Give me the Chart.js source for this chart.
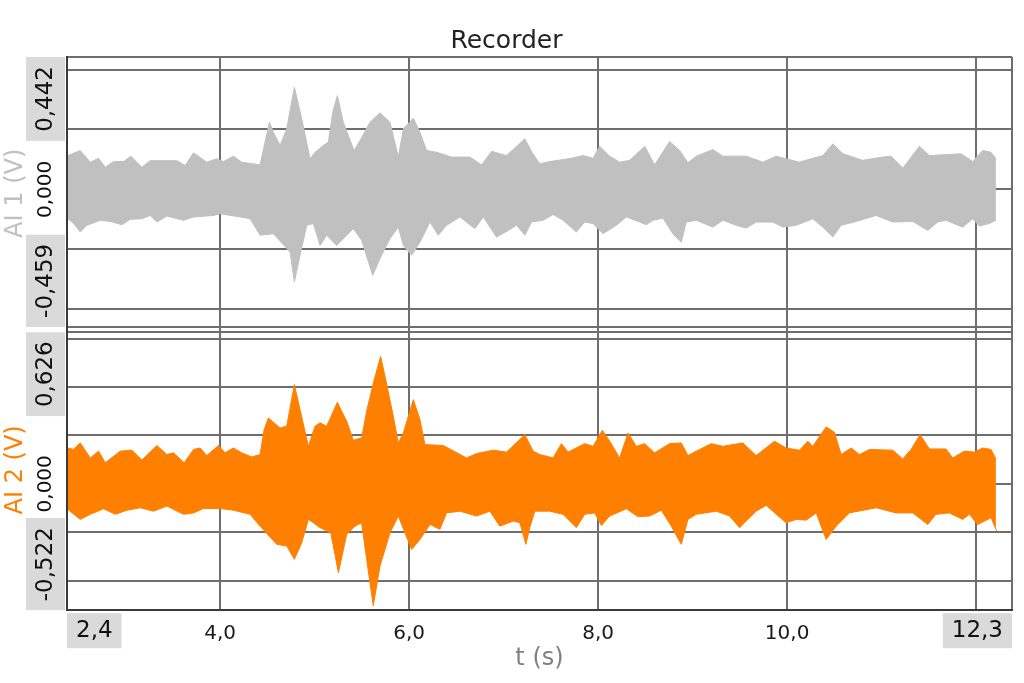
<!DOCTYPE html>
<html>
<head>
<meta charset="utf-8">
<title>Recorder</title>
<script src="https://cdn.jsdelivr.net/npm/chart.js@4.4.0/dist/chart.umd.min.js"></script>
<style>
  html, body { margin: 0; padding: 0; background: #fff; }
</style>
</head>
<body>
<canvas id="grafo" width="1024" height="683"></canvas>
<script>
// envolventes: [tiempo (s), tension (V)]
const ai1Sup = [[2.39,0.113],[2.52,0.130],[2.626,0.091],[2.714,0.104],[2.785,0.074],[2.873,0.093],[2.979,0.093],[3.056,0.111],[3.172,0.074],[3.26,0.096],[3.542,0.096],[3.63,0.080],[3.719,0.122],[3.859,0.091],[3.965,0.102],[4.036,0.093],[4.141,0.111],[4.229,0.091],[4.423,0.082],[4.476,0.158],[4.522,0.224],[4.564,0.191],[4.635,0.147],[4.705,0.202],[4.786,0.341],[4.864,0.236],[4.952,0.102],[5.005,0.124],[5.093,0.147],[5.146,0.158],[5.192,0.258],[5.241,0.313],[5.304,0.224],[5.417,0.130],[5.481,0.163],[5.586,0.224],[5.692,0.256],[5.798,0.224],[5.886,0.108],[5.939,0.202],[6.045,0.238],[6.115,0.191],[6.185,0.130],[6.291,0.124],[6.45,0.108],[6.643,0.108],[6.767,0.082],[6.873,0.127],[7.031,0.113],[7.225,0.169],[7.30,0.124],[7.383,0.086],[7.488,0.093],[7.717,0.104],[7.841,0.113],[7.947,0.104],[8.017,0.144],[8.123,0.111],[8.228,0.091],[8.334,0.097],[8.493,0.144],[8.598,0.082],[8.757,0.160],[8.863,0.130],[8.951,0.089],[9.039,0.111],[9.215,0.133],[9.321,0.111],[9.568,0.111],[9.744,0.091],[9.885,0.111],[9.99,0.102],[10.131,0.091],[10.272,0.104],[10.378,0.113],[10.484,0.152],[10.59,0.119],[10.801,0.097],[11.012,0.108],[11.1,0.111],[11.224,0.071],[11.4,0.144],[11.506,0.113],[11.682,0.116],[11.841,0.119],[11.964,0.093],[12.07,0.130],[12.158,0.124],[12.21,0.102]];
const ai1Inf = [[2.39,-0.098],[2.45,-0.114],[2.52,-0.142],[2.591,-0.120],[2.732,-0.103],[2.838,-0.107],[2.961,-0.118],[3.049,-0.100],[3.172,-0.098],[3.26,-0.087],[3.331,-0.109],[3.437,-0.089],[3.613,-0.103],[3.719,-0.092],[3.93,-0.087],[4.0,-0.081],[4.212,-0.092],[4.318,-0.098],[4.423,-0.153],[4.564,-0.148],[4.741,-0.209],[4.786,-0.309],[4.846,-0.220],[4.917,-0.120],[4.987,-0.114],[5.058,-0.187],[5.128,-0.153],[5.234,-0.187],[5.304,-0.164],[5.41,-0.131],[5.498,-0.170],[5.615,-0.287],[5.692,-0.231],[5.798,-0.164],[5.886,-0.126],[5.939,-0.187],[6.027,-0.220],[6.115,-0.176],[6.221,-0.109],[6.309,-0.153],[6.397,-0.120],[6.538,-0.092],[6.696,-0.131],[6.785,-0.092],[6.925,-0.159],[7.049,-0.137],[7.137,-0.120],[7.225,-0.153],[7.296,-0.109],[7.418,-0.103],[7.524,-0.084],[7.629,-0.103],[7.77,-0.142],[7.858,-0.109],[7.947,-0.114],[8.052,-0.148],[8.193,-0.120],[8.299,-0.092],[8.44,-0.109],[8.51,-0.118],[8.581,-0.103],[8.687,-0.096],[8.792,-0.148],[8.88,-0.176],[8.933,-0.109],[9.039,-0.103],[9.215,-0.126],[9.321,-0.103],[9.462,-0.120],[9.568,-0.129],[9.673,-0.109],[9.85,-0.109],[9.955,-0.126],[10.096,-0.120],[10.272,-0.098],[10.378,-0.126],[10.484,-0.159],[10.572,-0.120],[10.731,-0.107],[10.942,-0.087],[11.118,-0.109],[11.33,-0.107],[11.488,-0.137],[11.594,-0.109],[11.682,-0.103],[11.858,-0.126],[11.964,-0.098],[12.034,-0.122],[12.14,-0.114],[12.21,-0.103]];
const ai2Sup = [[2.39,0.148],[2.45,0.142],[2.52,0.169],[2.626,0.107],[2.714,0.135],[2.785,0.087],[2.943,0.135],[3.067,0.139],[3.172,0.098],[3.331,0.158],[3.437,0.121],[3.507,0.128],[3.62,0.087],[3.719,0.142],[3.789,0.148],[3.859,0.117],[3.983,0.158],[4.053,0.128],[4.141,0.148],[4.229,0.128],[4.335,0.111],[4.423,0.121],[4.466,0.224],[4.511,0.272],[4.635,0.231],[4.705,0.238],[4.786,0.410],[4.846,0.307],[4.934,0.155],[5.005,0.238],[5.058,0.252],[5.128,0.238],[5.241,0.337],[5.34,0.258],[5.41,0.180],[5.498,0.190],[5.551,0.300],[5.621,0.416],[5.699,0.526],[5.745,0.444],[5.833,0.279],[5.886,0.169],[5.939,0.210],[6.045,0.348],[6.115,0.265],[6.168,0.162],[6.362,0.158],[6.608,0.107],[6.714,0.125],[6.89,0.139],[7.031,0.131],[7.225,0.203],[7.313,0.135],[7.383,0.121],[7.524,0.107],[7.612,0.166],[7.682,0.131],[7.858,0.166],[7.947,0.155],[8.045,0.221],[8.123,0.176],[8.228,0.107],[8.317,0.210],[8.405,0.155],[8.493,0.166],[8.598,0.128],[8.757,0.166],[8.88,0.169],[8.951,0.117],[9.074,0.142],[9.198,0.166],[9.321,0.155],[9.532,0.169],[9.673,0.117],[9.867,0.176],[9.99,0.148],[10.131,0.139],[10.22,0.176],[10.272,0.155],[10.413,0.235],[10.501,0.213],[10.572,0.121],[10.678,0.148],[10.766,0.121],[10.871,0.142],[11.118,0.139],[11.224,0.103],[11.312,0.142],[11.407,0.203],[11.506,0.144],[11.682,0.144],[11.752,0.107],[11.876,0.135],[11.981,0.131],[12.07,0.148],[12.158,0.142],[12.21,0.103]];
const ai2Inf = [[2.39,-0.106],[2.52,-0.147],[2.626,-0.126],[2.767,-0.103],[2.891,-0.126],[3.014,-0.109],[3.155,-0.099],[3.296,-0.113],[3.437,-0.092],[3.613,-0.126],[3.719,-0.120],[3.824,-0.102],[4.0,-0.102],[4.141,-0.109],[4.318,-0.126],[4.423,-0.175],[4.599,-0.250],[4.705,-0.257],[4.786,-0.312],[4.864,-0.243],[4.934,-0.147],[4.987,-0.161],[5.058,-0.181],[5.171,-0.202],[5.252,-0.367],[5.34,-0.209],[5.428,-0.175],[5.498,-0.161],[5.551,-0.312],[5.621,-0.504],[5.692,-0.340],[5.798,-0.202],[5.886,-0.133],[5.956,-0.202],[6.027,-0.271],[6.115,-0.230],[6.221,-0.168],[6.326,-0.188],[6.397,-0.120],[6.538,-0.113],[6.714,-0.133],[6.855,-0.113],[6.96,-0.175],[7.102,-0.154],[7.172,-0.161],[7.236,-0.250],[7.277,-0.181],[7.33,-0.113],[7.488,-0.113],[7.629,-0.126],[7.77,-0.181],[7.858,-0.126],[7.964,-0.120],[8.035,-0.172],[8.123,-0.133],[8.299,-0.103],[8.422,-0.136],[8.546,-0.133],[8.669,-0.109],[8.775,-0.175],[8.88,-0.250],[8.951,-0.147],[9.039,-0.126],[9.25,-0.113],[9.391,-0.133],[9.497,-0.181],[9.673,-0.113],[9.779,-0.089],[9.885,-0.126],[9.99,-0.161],[10.096,-0.147],[10.202,-0.150],[10.308,-0.120],[10.413,-0.230],[10.519,-0.175],[10.66,-0.120],[10.942,-0.099],[11.153,-0.120],[11.33,-0.120],[11.488,-0.168],[11.576,-0.126],[11.717,-0.120],[11.858,-0.147],[11.929,-0.126],[12.017,-0.168],[12.158,-0.140],[12.218,-0.195]];

// ejes
const tiempoMin = 2.38;
const tiempoMax = 12.38;
const xTicks = [2.38, 4, 6, 8, 10, 12, 12.38];
const xEtiquetas = ['2,4', '4,0', '6,0', '8,0', '10,0', '', '12,3'];
const ai1Vista = [-0.468, 0.442];
const ai1Ticks = [-0.459, -0.4, -0.2, 0, 0.2, 0.4, 0.442];
const ai1Etiquetas = ['-0,459', '', '', '0,000', '', '', '0,442'];
const ai2Vista = [-0.522, 0.637];
const ai2Ticks = [-0.522, -0.4, -0.2, 0, 0.2, 0.4, 0.6, 0.626];
const ai2Etiquetas = ['-0,522', '', '', '0,000', '', '', '', '0,626'];

const gris = '#c0c0c0';
const naranja = '#ff8000';
const colorRejilla = '#6e6e6e';
const colorCaja = '#dadada';
const fuente = 'DejaVu Sans';

function puntos(pares) {
  return pares.map(p => ({x: p[0], y: p[1]}));
}

// la envolvente superior se rellena hasta la inferior (dataset siguiente)
function serie(pares, eje, color, relleno) {
  return {
    data: puntos(pares),
    yAxisID: eje,
    borderColor: color,
    backgroundColor: color,
    borderWidth: 1,
    pointRadius: 0,
    tension: 0,
    fill: relleno
  };
}

function ticksFijos(valores) {
  return function(scale) {
    scale.ticks = valores.map(v => ({value: v}));
  };
}

function ejeY(vista, valores, titulo, color, peso) {
  return {
    type: 'linear',
    position: 'left',
    stack: 'recorder',
    stackWeight: peso,
    min: vista[0],
    max: vista[1],
    afterBuildTicks: ticksFijos(valores),
    afterFit: function(scale) { scale.width = 67; },
    ticks: { display: false },
    grid: { color: colorRejilla, lineWidth: 2, drawTicks: false },
    border: { color: '#3a3a3a', width: 2 },
    title: {
      display: true,
      text: titulo,
      color: color,
      font: { family: fuente, size: 24 },
      padding: { top: 1, bottom: 0 }
    }
  };
}

// dibuja el texto girado 90 grados
function textoGirado(ctx, txt, x, y) {
  ctx.save();
  ctx.translate(x, y);
  ctx.rotate(-Math.PI / 2);
  ctx.fillText(txt, 0, 0);
  ctx.restore();
}

// etiquetas de los extremos con su caja gris, y el 0,000
const etiquetasPlugin = {
  id: 'etiquetas',
  afterDraw(chart) {
    const ctx = chart.ctx;
    const area = chart.chartArea;
    ctx.save();
    ctx.textAlign = 'center';
    ctx.textBaseline = 'middle';
    const ejes = [['yTop', ai1Ticks, ai1Etiquetas], ['yBot', ai2Ticks, ai2Etiquetas]];
    for (const [id, valores, textos] of ejes) {
      const s = chart.scales[id];
      const cx = s.right - 21;
      for (let i = 0; i < valores.length; i++) {
        if (!textos[i]) continue;
        const y = s.getPixelForValue(valores[i]);
        if (i === 0 || i === valores.length - 1) {
          ctx.font = '23px "' + fuente + '"';
          const largo = ctx.measureText(textos[i]).width + 18;
          const y0 = i === 0 ? y - largo : y;
          ctx.fillStyle = colorCaja;
          ctx.fillRect(s.right - 41, y0, 39, largo);
          ctx.fillStyle = '#111';
          textoGirado(ctx, textos[i], cx, y0 + largo / 2);
        } else {
          ctx.font = '20px "' + fuente + '"';
          ctx.fillStyle = '#111';
          textoGirado(ctx, textos[i], cx, y);
        }
      }
    }
    // eje x: primera y ultima
    const sx = chart.scales.x;
    ctx.font = '23px "' + fuente + '"';
    [0, xTicks.length - 1].forEach(i => {
      const largo = ctx.measureText(xEtiquetas[i]).width + 18;
      const x = sx.getPixelForValue(xTicks[i]);
      const x0 = i === 0 ? x : x - largo;
      ctx.fillStyle = colorCaja;
      ctx.fillRect(x0, area.bottom + 3, largo, 35);
      ctx.fillStyle = '#111';
      ctx.fillText(xEtiquetas[i], x0 + largo / 2, area.bottom + 21);
    });
    ctx.restore();
  }
};

const grafica = new Chart(document.getElementById('grafo'), {
  type: 'line',
  data: {
    datasets: [
      serie(ai1Sup, 'yTop', gris, '+1'),
      serie(ai1Inf, 'yTop', gris, false),
      serie(ai2Sup, 'yBot', naranja, '+1'),
      serie(ai2Inf, 'yBot', naranja, false)
    ]
  },
  options: {
    responsive: false,
    animation: false,
    layout: { padding: { left: 0, right: 11, top: 0, bottom: 10 } },
    plugins: {
      legend: { display: false },
      tooltip: { enabled: false },
      title: {
        display: true,
        text: 'Recorder',
        color: '#222',
        font: { family: fuente, size: 25, weight: 'normal' },
        padding: { top: 26, bottom: 1 }
      }
    },
    scales: {
      x: {
        type: 'linear',
        min: tiempoMin,
        max: tiempoMax,
        afterBuildTicks: ticksFijos(xTicks),
        ticks: {
          autoSkip: false,
          maxRotation: 0,
          padding: 12,
          color: '#1a1a1a',
          font: { family: fuente, size: 20 },
          callback: function(v, i) {
            return (i === 0 || i === xTicks.length - 1) ? '' : xEtiquetas[i];
          }
        },
        grid: { color: colorRejilla, lineWidth: 2, drawTicks: false },
        border: { color: '#3a3a3a', width: 2 },
        title: {
          display: true,
          text: 't (s)',
          color: '#808080',
          font: { family: fuente, size: 24 },
          padding: { top: -14, bottom: 0 }
        }
      },
      // el ultimo eje de la pila queda arriba
      yBot: ejeY(ai2Vista, ai2Ticks, 'AI 2 (V)', naranja, 281),
      yTop: ejeY(ai1Vista, ai1Ticks, 'AI 1 (V)', gris, 273)
    }
  },
  plugins: [etiquetasPlugin]
});
</script>
</body>
</html>
